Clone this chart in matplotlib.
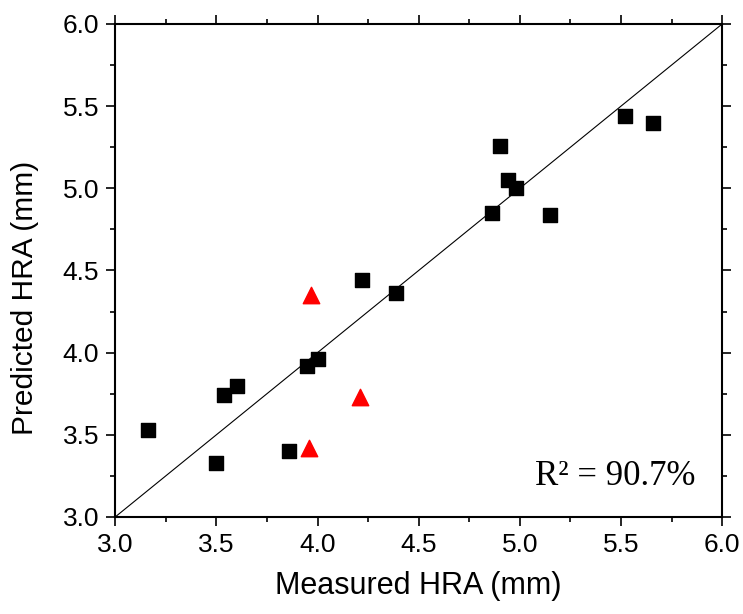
import matplotlib
matplotlib.use("Agg")
import matplotlib.pyplot as plt
from matplotlib.ticker import MultipleLocator

# training points (black squares)
meas_train = [3.16, 3.50, 3.54, 3.60, 3.86, 3.95, 4.00, 4.22, 4.39,
              4.86, 4.90, 4.94, 4.98, 5.15, 5.52, 5.66]
pred_train = [3.53, 3.33, 3.74, 3.80, 3.40, 3.92, 3.96, 4.44, 4.36,
              4.85, 5.26, 5.05, 5.00, 4.84, 5.44, 5.40]

# test points (red triangles)
meas_test = [3.97, 4.21, 3.96]
pred_test = [4.35, 3.73, 3.42]

plt.rcParams['font.family'] = ['Liberation Sans', 'DejaVu Sans']

fig, ax = plt.subplots(figsize=(7.43, 6.14), dpi=100)
fig.subplots_adjust(left=0.155, right=0.972, top=0.961, bottom=0.158)

ax.plot([3, 6], [3, 6], color='black', lw=0.8, zorder=1)
ax.scatter(meas_train, pred_train, marker='s', s=100, color='black', zorder=3)
ax.scatter(meas_test, pred_test, marker='^', s=140, color='red', zorder=3)

ax.set_xlim(3, 6)
ax.set_ylim(3, 6)
ax.xaxis.set_major_locator(MultipleLocator(0.5))
ax.yaxis.set_major_locator(MultipleLocator(0.5))
ax.xaxis.set_minor_locator(MultipleLocator(0.25))
ax.yaxis.set_minor_locator(MultipleLocator(0.25))
ax.tick_params(which='both', direction='out', top=True, right=True, width=1.2)
ax.tick_params(which='major', length=6.5, labelsize=19, pad=5)
ax.tick_params(which='minor', length=3.5)
for s in ax.spines.values():
    s.set_linewidth(1.5)

ax.set_xlabel('Measured HRA (mm)', fontsize=22, labelpad=10)
ax.set_ylabel('Predicted HRA (mm)', fontsize=21.5)
ax.yaxis.set_label_coords(-0.125, 0.444)

ax.text(5.867, 3.195, 'R\u00b2 = 90.7%', family='Liberation Serif', fontsize=25,
        ha='right', va='baseline')

fig.savefig('out.png')
